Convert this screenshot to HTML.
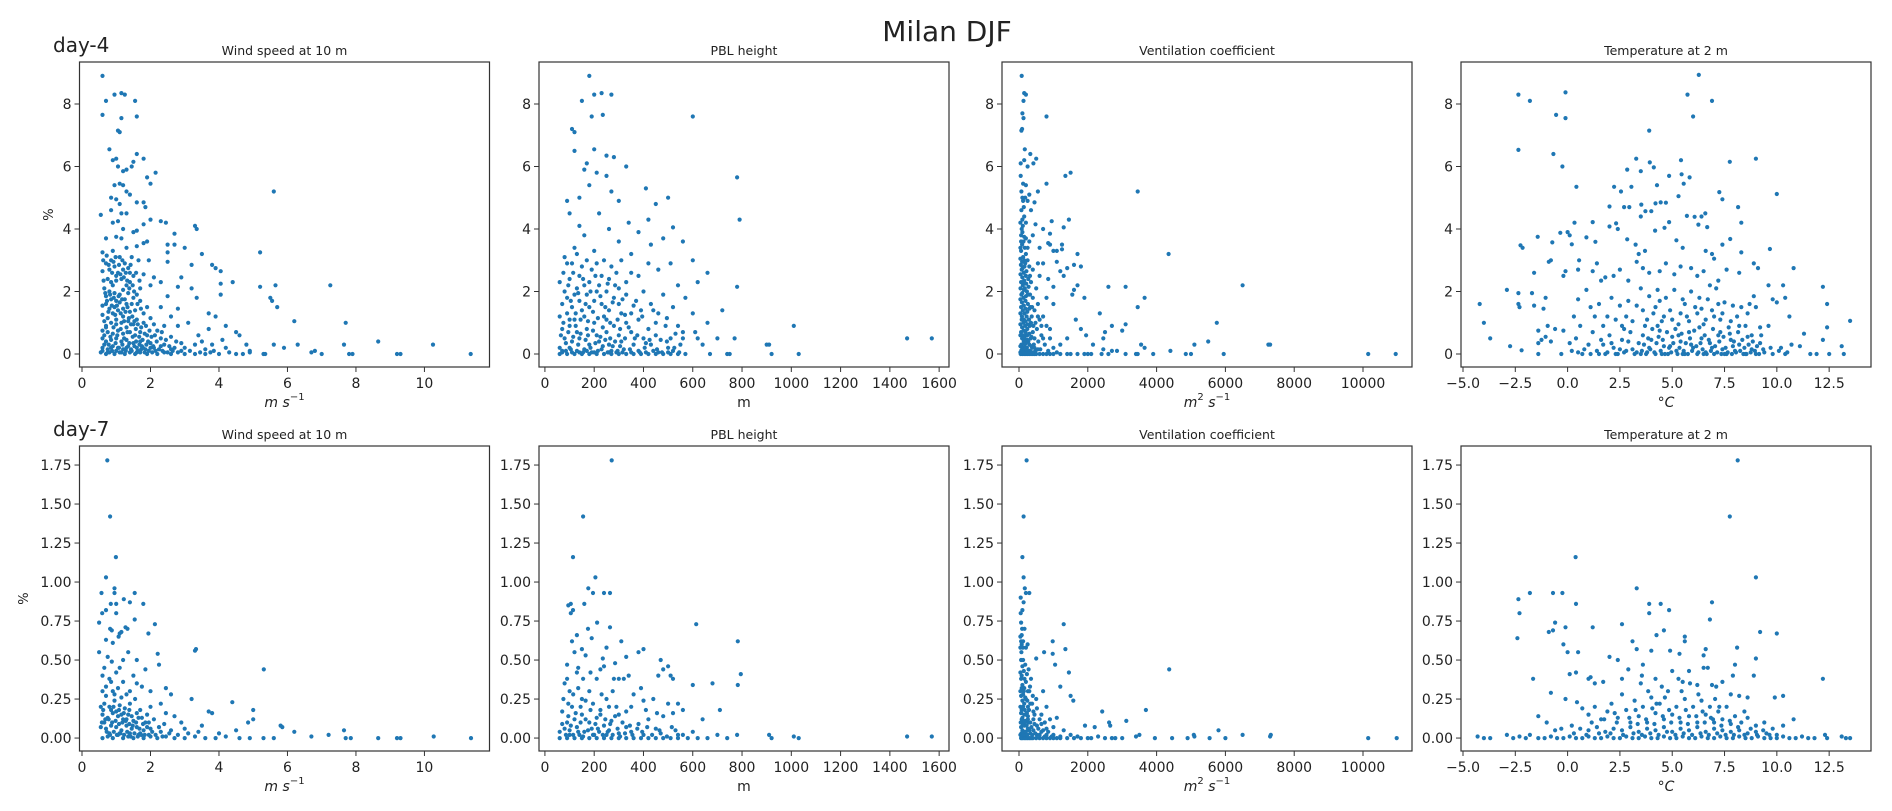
<!DOCTYPE html>
<html><head><meta charset="utf-8"><style>
html,body{margin:0;padding:0;background:#fff;}
svg{display:block;font-family:"DejaVu Sans","Liberation Sans",sans-serif;}
</style></head><body>
<svg id="fig" width="1892" height="811" viewBox="0 0 1892 811" xmlns="http://www.w3.org/2000/svg">
<rect width="1892" height="811" fill="#fff"/>
<text x="947" y="41" font-size="28" text-anchor="middle" fill="#222">Milan DJF</text>
<text x="53" y="52" font-size="20" fill="#222">day-4</text>
<text x="53" y="436" font-size="20" fill="#222">day-7</text>
<g id="plots"></g>
</svg>
<script>
// ---- tick labels ----
const windTicks=[0,2,4,6,8,10];
const pblTicks=[0,200,400,600,800,1000,1200,1400,1600];
const vcTicks=[0,2000,4000,6000,8000,10000];
const tTicks=[-5,-2.5,0,2.5,5,7.5,10,12.5];
const yTicksTop=[0,2,4,6,8];
const yTicksBot=[0,0.25,0.5,0.75,1,1.25,1.5,1.75];
const titles=["Wind speed at 10 m","PBL height","Ventilation coefficient","Temperature at 2 m"];

// ---- day-4 data [x, %] ----
const d4Wind=[[0.6,8.9],[0.7,8.1],[0.95,8.3],[1.15,8.35],[1.25,8.3],[1.55,8.1],[0.6,7.65],[1.15,7.55],[1.6,7.6],[1.05,7.15],[1.1,7.1],[0.8,6.55],[1.6,6.4],[1.8,6.25],[1.5,6.15],[0.9,6.2],[1.0,6.25],[1.05,6.0],[1.3,5.9],[1.45,6.0],[1.2,5.85],[1.9,5.65],[2.15,5.8],[0.95,5.4],[1.1,5.45],[1.2,5.4],[2.0,5.45],[1.3,5.2],[1.4,5.1],[0.85,5.0],[1.0,4.95],[1.1,4.8],[1.6,4.85],[1.8,4.85],[1.85,4.7],[5.6,5.2],[0.55,4.45],[0.85,4.6],[1.15,4.5],[1.3,4.5],[2.0,4.3],[2.3,4.25],[2.45,4.2],[0.9,4.2],[1.05,4.25],[1.8,4.15],[3.3,4.1],[3.35,4.0],[1.2,4.0],[1.5,3.9],[1.6,3.95],[2.7,3.85],[0.7,3.7],[1.0,3.75],[1.15,3.7],[1.8,3.55],[1.9,3.6],[2.5,3.5],[2.7,3.5],[3.0,3.4],[0.6,3.25],[0.9,3.3],[1.3,3.4],[1.6,3.45],[2.5,3.25],[3.5,3.2],[5.2,3.25],[0.85,3.0],[1.1,3.1],[1.45,3.1],[1.65,3.0],[1.95,3.0],[2.5,2.95],[3.2,2.85],[3.8,2.85],[3.9,2.75],[4.05,2.65],[0.6,2.65],[1.4,2.6],[1.8,2.55],[2.1,2.45],[2.9,2.45],[1.0,2.5],[1.2,2.7],[4.05,2.25],[4.4,2.3],[5.2,2.15],[5.65,2.2],[7.25,2.2],[0.9,2.2],[1.3,2.2],[1.7,2.1],[2.0,2.2],[2.3,2.3],[2.8,2.15],[3.2,2.1],[1.1,1.9],[1.5,1.8],[2.5,1.85],[3.35,1.8],[4.05,1.9],[5.5,1.8],[5.55,1.7],[0.7,1.6],[1.0,1.7],[1.3,1.6],[1.9,1.5],[2.3,1.5],[2.8,1.45],[5.7,1.5],[6.2,1.05],[7.7,1.0],[0.6,1.25],[0.9,1.3],[1.2,1.2],[1.6,1.1],[2.0,1.15],[2.6,1.2],[3.1,1.0],[3.7,1.3],[3.9,1.2],[4.2,0.9],[4.5,0.7],[0.7,0.9],[1.0,0.95],[1.3,0.85],[1.7,0.7],[2.2,0.75],[2.8,0.9],[3.4,0.6],[3.7,0.8],[4.6,0.6],
[0.7,2.9],[0.8,2.7],[0.95,2.8],[1.05,2.6],[1.25,2.9],[1.35,2.75],[1.5,2.5],[0.75,2.4],[0.85,2.3],[1.0,2.35],[1.15,2.4],[1.4,2.3],[0.65,2.1],[0.8,2.0],[0.95,1.95],[1.2,2.05],[1.35,1.95],[1.6,1.9],[0.7,1.85],[0.85,1.75],[1.1,1.65],[1.25,1.75],[1.45,1.6],[1.7,1.7],[0.6,1.55],[0.8,1.45],[0.95,1.5],[1.05,1.4],[1.2,1.45],[1.4,1.35],[1.55,1.4],[1.8,1.3],[0.65,1.05],[0.75,1.15],[0.85,1.0],[1.0,1.1],[1.15,1.0],[1.35,1.05],[1.5,0.95],[1.8,1.0],[2.1,0.95],[2.4,0.9],[0.6,0.75],[0.75,0.7],[0.9,0.65],[1.05,0.75],[1.2,0.65],[1.4,0.7],[1.55,0.6],[1.9,0.6],[2.3,0.5],[2.6,0.55],[0.6,0.5],[0.7,0.4],[0.85,0.45],[1.0,0.5],[1.15,0.4],[1.3,0.45],[1.5,0.35],[1.7,0.4],[2.0,0.35],[2.4,0.3],[2.9,0.35],[3.3,0.3],[3.8,0.3],[0.6,0.2],[0.75,0.15],[0.9,0.25],[1.05,0.2],[1.2,0.15],[1.35,0.25],[1.6,0.2],[1.85,0.15],[2.1,0.2],[2.6,0.15],[3.0,0.2],[3.6,0.15],[4.2,0.2],[4.8,0.3],[0.55,0.05],[0.7,0.0],[0.8,0.05],[0.95,0.0],[1.1,0.05],[1.25,0.0],[1.4,0.05],[1.55,0.0],[1.7,0.05],[1.9,0.0],[2.05,0.05],[2.2,0.0],[2.4,0.05],[2.6,0.0],[2.8,0.05],[3.0,0.0],[3.3,0.0],[3.6,0.0],[3.75,0.05],[4.0,0.0],[4.5,0.0],[4.7,0.0],[4.9,0.05],[5.3,0.0],[5.35,0.0],[5.6,0.3],[5.9,0.2],[6.3,0.3],[6.7,0.05],[6.8,0.1],[7.0,0.0],[7.65,0.3],[7.8,0.0],[7.9,0.0],[8.65,0.4],[9.2,0.0],[9.3,0.0],[10.25,0.3],[11.35,0.0]];
const d4WindDense=[[0.62,3.0],[0.72,3.15],[0.78,2.85],[0.88,2.6],[0.92,2.95],[0.98,3.1],[1.08,2.85],[1.12,2.55],[1.18,3.0],[1.22,2.45],[1.28,2.6],[1.32,2.35],[1.38,2.1],[1.42,2.85],[1.48,2.2],[1.52,2.0],[1.58,2.6],[1.62,1.6],[1.68,2.35],[1.72,1.45],[0.63,2.35],[0.68,1.95],[0.73,1.7],[0.77,1.35],[0.82,1.9],[0.87,1.55],[0.93,1.8],[0.97,1.25],[1.02,1.55],[1.07,1.85],[1.13,1.3],[1.17,1.75],[1.23,1.05],[1.27,1.35],[1.33,1.5],[1.37,1.15],[1.43,0.95],[1.47,1.2],[1.53,1.05],[1.57,0.8],[1.63,0.95],[1.67,0.55],[1.73,0.85],[1.77,0.45],[1.83,0.65],[1.87,0.9],[1.93,0.4],[1.97,0.75],[2.03,0.55],[2.08,0.25],[2.13,0.6],[2.18,0.4],[2.25,0.15],[2.33,0.7],[2.45,0.45],[2.55,0.25],[2.65,0.1],[2.75,0.4],[0.65,0.6],[0.7,0.85],[0.78,0.3],[0.83,0.55],[0.88,0.1],[0.92,0.85],[0.98,0.35],[1.03,0.6],[1.08,0.2],[1.13,0.8],[1.18,0.3],[1.23,0.5],[1.28,0.1],[1.33,0.7],[1.38,0.35],[1.43,0.15],[1.48,0.55],[1.53,0.25],[1.58,0.4],[1.63,0.1],[1.68,0.3],[1.73,0.15],[1.78,0.2],[1.83,0.05],[1.88,0.3],[1.95,0.1],[2.0,0.2],[2.15,0.1],[2.3,0.25],[2.5,0.05],[2.7,0.2],[2.9,0.1],[3.15,0.1],[3.45,0.05],[3.85,0.1],[4.3,0.05],[0.6,0.1],[0.65,0.3],[0.75,0.05],[0.85,0.2],[1.0,0.1],[1.15,0.05],[1.3,0.2],[1.45,0.1],[1.6,0.05],[1.75,0.25],[2.35,0.1],[3.5,0.4],[4.1,0.45],[4.9,0.1]];

const d4Pbl=[[180,8.9],[150,8.1],[230,8.35],[200,8.3],[270,8.3],[110,7.2],[120,7.1],[190,7.6],[235,7.65],[600,7.6],[120,6.5],[200,6.55],[250,6.35],[280,6.3],[330,6.0],[170,6.1],[160,5.9],[210,5.8],[250,5.7],[180,5.4],[410,5.3],[780,5.65],[270,5.2],[90,4.9],[140,5.0],[300,4.9],[450,4.8],[500,5.0],[790,4.3],[100,4.5],[220,4.5],[340,4.2],[420,4.3],[140,4.1],[260,4.0],[520,4.05],[380,3.9],[160,3.8],[300,3.6],[430,3.5],[480,3.7],[560,3.6],[120,3.4],[200,3.3],[350,3.2],[240,3.0],[420,2.9],[510,2.9],[600,3.0],[90,2.9],[150,2.8],[290,2.6],[380,2.5],[460,2.7],[660,2.6],[100,2.4],[180,2.3],[330,2.3],[540,2.2],[620,2.3],[780,2.15],[60,2.3],[130,2.1],[250,2.0],[400,2.0],[480,1.9],[570,1.8],[90,1.8],[200,1.7],[300,1.6],[430,1.6],[520,1.5],[720,1.4],[150,1.4],[350,1.3],[600,1.3],[660,1.0],[1010,0.9],[100,1.1],[250,1.1],[450,1.0],[540,0.9],[610,0.7],[620,0.5],[700,0.5],[770,0.5],[900,0.3],[910,0.3],[1470,0.5],[1570,0.5],[1030,0],[920,0],[740,0],[750,0],[670,0],[570,0],[640,0.3],[60,0.2],
[80,3.1],[110,2.9],[130,3.2],[170,3.0],[190,2.7],[210,2.9],[230,2.5],[270,2.8],[310,3.0],[140,2.5],[160,2.2],[220,2.2],[260,2.4],[300,2.1],[350,2.6],[80,2.0],[120,1.9],[170,1.9],[210,2.0],[280,1.8],[330,1.9],[370,1.7],[70,1.6],[110,1.5],[140,1.7],[180,1.5],[230,1.6],[260,1.4],[310,1.3],[390,1.4],[460,1.3],[60,1.2],[90,1.3],[120,1.1],[160,1.2],[200,1.0],[240,1.2],[280,0.9],[330,1.0],[380,1.1],[420,0.8],[490,0.9],[560,0.7],[70,0.8],[100,0.9],[130,0.7],[170,0.8],[210,0.6],[250,0.7],[300,0.6],[350,0.7],[400,0.5],[450,0.6],[510,0.5],[80,0.5],[110,0.4],[140,0.5],[180,0.3],[220,0.4],[260,0.3],[310,0.4],[360,0.3],[430,0.3],[500,0.2],[550,0.3],[70,0.1],[100,0.2],[130,0.1],[160,0.15],[190,0.05],[230,0.15],[270,0.1],[320,0.15],[380,0.1],[440,0.1],[520,0.1],[60,0],[90,0],[120,0],[150,0],[180,0],[210,0],[240,0],[270,0],[300,0],[330,0],[360,0],[390,0],[420,0],[450,0],[480,0],[510,0],[540,0]];
const d4PblDense=[[75,2.6],[95,2.2],[105,1.7],[115,2.6],[125,1.3],[135,1.95],[145,1.1],[155,2.4],[165,1.6],[175,1.05],[185,2.0],[195,1.35],[205,2.5],[215,1.15],[225,1.85],[235,0.85],[245,1.5],[255,2.25],[265,1.0],[275,1.65],[285,2.2],[295,1.1],[305,0.8],[315,1.75],[325,1.25],[340,0.85],[360,1.55],[375,0.6],[395,1.2],[410,0.35],[440,1.4],[470,0.45],[495,1.15],[530,0.65],[65,0.6],[75,1.0],[85,0.35],[95,0.7],[105,0.15],[115,0.55],[125,0.9],[135,0.3],[145,0.65],[155,0.05],[165,0.45],[175,0.6],[185,0.2],[195,0.75],[205,0.35],[215,0.1],[225,0.55],[235,0.25],[245,0.45],[255,0.05],[265,0.5],[275,0.25],[285,0.4],[295,0.1],[305,0.25],[315,0.05],[325,0.5],[345,0.15],[365,0.5],[385,0.05],[405,0.2],[425,0.45],[455,0.15],[475,0.05],[495,0.4],[525,0.2],[545,0.05],[560,0.5],[70,0.05],[85,0.1],[110,0.05],[140,0.05],[170,0.1],[200,0.05],[260,0.05],[290,0.05],[350,0.05],[410,0.05],[460,0.05],[500,0.05]];

const d4Vc=[[78,8.9],[150,8.35],[200,8.3],[130,8.1],[100,7.7],[130,7.55],[800,7.6],[70,7.15],[90,7.2],[170,6.55],[330,6.4],[500,6.25],[150,6.2],[250,6.0],[420,6.1],[50,5.7],[1350,5.7],[1500,5.8],[120,5.45],[200,5.4],[800,5.45],[550,5.2],[3450,5.2],[100,5.0],[300,5.1],[250,4.9],[450,4.85],[140,4.7],[350,4.6],[100,4.3],[200,4.2],[950,4.25],[1450,4.3],[1300,4.05],[700,4.0],[480,4.15],[900,3.85],[400,3.8],[150,3.75],[300,3.6],[850,3.55],[900,3.5],[1250,3.5],[600,3.4],[1000,3.3],[1250,3.35],[1700,3.2],[4350,3.2],[1100,3.3],[200,3.2],[150,3.0],[700,2.9],[550,2.9],[1100,2.95],[1600,2.85],[1800,2.8],[1400,2.75],[1200,2.65],[1300,2.5],[400,2.7],[600,2.5],[850,2.4],[1000,2.15],[1700,2.2],[2600,2.15],[3100,2.15],[6500,2.2],[1600,2.05],[1550,1.9],[1900,1.8],[3650,1.8],[800,1.8],[1000,1.6],[3450,1.5],[1650,1.1],[2350,1.3],[5750,1.0],[2700,0.9],[3100,0.95],[1800,0.8],[2500,0.7],[3000,0.75],[1950,0.6],[1400,0.5],[2450,0.5],[2150,0.3],[3550,0.3],[5100,0.3],[5500,0.4],[7250,0.3],[7300,0.3],[3650,0.2],[2450,0.15],[2700,0.1],[2850,0.1],[4400,0.1],[1900,0],[2000,0],[2100,0],[2400,0],[2600,0],[3100,0],[3400,0],[3450,0],[3900,0],[4850,0],[5000,0],[5950,0],[10150,0],[10950,0],[1400,0],[1500,0],[1700,0],
[60,3.3],[120,3.1],[180,2.9],[250,3.0],[300,2.8],[80,2.7],[140,2.6],[200,2.5],[270,2.4],[350,2.3],[60,2.3],[110,2.2],[170,2.1],[230,2.0],[320,1.9],[400,1.8],[70,1.9],[130,1.8],[190,1.7],[260,1.6],[330,1.5],[450,1.4],[550,1.6],[60,1.5],[110,1.4],[160,1.3],[220,1.2],[290,1.1],[370,1.2],[480,1.0],[600,1.1],[700,1.2],[80,1.1],[130,1.0],[180,0.9],[240,0.8],[310,0.9],[400,0.7],[520,0.8],[650,0.6],[800,0.9],[900,0.5],[60,0.7],[110,0.6],[160,0.5],[210,0.6],[270,0.4],[340,0.5],[430,0.3],[560,0.4],[750,0.3],[1000,0.2],[1200,0.3],[70,0.3],[120,0.2],[170,0.3],[230,0.2],[300,0.1],[380,0.2],[480,0.1],[620,0.15],[850,0.1],[1100,0.05],[50,0],[100,0],[150,0],[200,0],[250,0],[300,0],[350,0],[400,0],[450,0],[500,0],[600,0],[700,0],[800,0],[900,0],[1000,0],[1200,0],[80,4.0],[60,3.8],[130,3.6],[90,3.5],[170,3.4],[70,4.6],[120,4.9],[180,5.0]];
const d4VcDense=[[40,3.05],[55,2.85],[90,2.95],[105,2.75],[160,2.8],[215,2.65],[45,2.55],[95,2.45],[150,2.35],[210,2.25],[280,2.15],[45,2.1],[95,1.95],[145,2.05],[200,1.85],[260,1.9],[40,1.75],[85,1.65],[140,1.55],[190,1.45],[240,1.35],[300,1.45],[380,1.5],[40,1.3],[85,1.2],[140,1.1],[190,1.05],[250,0.95],[350,1.0],[420,0.9],[40,0.95],[90,0.85],[140,0.75],[190,0.7],[240,0.6],[300,0.65],[360,0.55],[450,0.5],[40,0.6],[90,0.5],[140,0.4],[190,0.35],[240,0.45],[300,0.3],[360,0.25],[450,0.2],[550,0.15],[40,0.25],[90,0.15],[140,0.1],[190,0.2],[240,0.05],[320,0.1],[400,0.05],[40,0.05],[70,0.12],[110,0.05],[170,0.02],[230,0.12],[280,0.02],[60,3.6],[100,3.9],[40,4.2],[150,4.4],[70,5.2],[50,6.1],[110,4.1],[200,3.7],[250,3.4],[40,3.4],[120,2.3],[320,2.5],[500,2.1],[550,1.2],[650,0.9],[700,0.5],[900,0.8]];

const d4Temp=[[-2.35,8.3],[-1.8,8.1],[-0.1,8.37],[-0.55,7.65],[-0.1,7.55],[6.27,8.93],[5.73,8.3],[6.9,8.1],[6.0,7.6],[3.9,7.15],[-2.35,6.53],[-0.68,6.4],[-0.25,6.0],[3.28,6.25],[3.93,6.13],[4.12,5.97],[5.42,6.2],[7.75,6.15],[9.0,6.25],[2.85,5.9],[3.5,5.85],[4.85,5.7],[5.45,5.75],[5.83,5.65],[5.55,5.45],[4.27,5.4],[2.22,5.35],[3.05,5.35],[0.42,5.35],[2.55,5.2],[10.0,5.12],[7.25,5.18],[7.4,4.95],[5.3,5.05],[2.0,4.72],[2.7,4.7],[2.95,4.7],[8.15,4.7],[3.52,4.78],[3.72,4.57],[4.0,4.57],[4.2,4.82],[4.7,4.84],[4.45,4.85],[5.7,4.42],[6.07,4.39],[6.58,4.5],[6.4,4.4],[3.5,4.4],[4.85,4.22],[8.3,4.2],[1.2,4.22],[0.33,4.2],[2.32,4.18],[2.0,4.08],[2.4,4.0],[4.18,3.95],[4.63,4.04],[6.25,4.14],[6.67,4.06],[0.0,3.9],[-0.35,3.88],[0.1,3.8],[-1.43,3.75],[0.9,3.73],[1.33,3.59],[-0.73,3.57],[0.2,3.51],[2.85,3.67],[3.25,3.5],[-2.25,3.48],[-2.15,3.4],[7.77,3.68],[7.4,3.5],[9.67,3.36],[5.2,3.64],[3.7,3.3],[3.4,3.2],[5.5,3.4],[6.6,3.3],[6.9,3.2],[7.0,3.05],[8.3,3.25],
[-1.6,2.6],[-0.9,2.95],[-0.8,3.0],[-0.2,2.5],[-0.1,2.65],[0.5,2.7],[0.55,3.0],[1.2,2.65],[1.4,2.9],[1.6,2.35],[1.8,2.45],[2.2,2.5],[2.5,2.7],[2.9,2.35],[3.3,2.95],[3.6,2.75],[3.9,2.6],[4.4,2.65],[4.7,2.9],[5.1,2.55],[5.4,2.8],[5.9,2.75],[6.2,2.5],[6.5,2.65],[6.8,2.2],[7.2,2.35],[7.6,2.7],[8.2,2.6],[8.9,2.9],[9.1,2.75],[10.8,2.75],[-2.9,2.05],[-2.35,1.95],[-1.7,1.95],[-2.35,1.6],[-2.3,1.5],[-1.6,1.55],[-1.05,1.8],[-1.15,1.45],[-4.2,1.6],[-4.0,1.0],[-3.7,0.5],[-2.75,0.25],[-2.2,0.12],[-1.4,0.0],[-1.4,0.35],[-1.4,0.75],[-1.25,0.45],[-1.05,0.55],[-0.95,0.9],[-0.8,0.4],[-0.6,0.8],[-0.3,0.0],[-0.2,0.75],[0.1,0.35],[0.3,1.2],[0.5,1.75],[0.6,0.9],[0.9,2.05],[1.1,1.5],[1.3,1.2],[1.5,1.6],[1.7,0.9],[1.9,1.2],[2.1,1.8],[2.3,1.1],[2.5,1.55],[2.7,0.8],[2.9,1.7],[3.1,1.05],[3.3,1.55],[3.5,2.1],[3.7,0.9],[3.9,1.85],[4.1,1.3],[4.3,2.05],[4.5,1.05],[4.7,1.8],[4.9,1.4],[5.1,2.05],[5.3,0.95],[5.5,1.75],[5.7,1.2],[5.9,2.0],[6.1,1.5],[6.3,1.8],[6.5,0.95],[6.7,1.75],[6.9,1.4],[7.1,2.1],[7.3,1.1],[7.5,1.65],[7.7,0.85],[7.9,1.55],[8.1,1.2],[8.3,1.5],[8.5,0.9],[8.7,1.6],[8.9,1.85],[9.0,1.5],[9.2,0.85],[9.6,2.2],[9.8,1.75],[10.0,1.65],[10.3,2.2],[10.4,1.8],[10.6,1.2],[12.2,2.15],[12.4,1.6],[12.4,0.85],[13.5,1.06],[11.3,0.65],[12.2,0.45],[13.1,0.25],[13.2,0.0],[12.5,0.0],[11.9,0.0],[11.6,0.0],[11.1,0.25],
[0.2,0.1],[0.4,0.5],[0.7,0.0],[1.0,0.3],[1.2,0.7],[1.4,0.1],[1.6,0.45],[1.8,0.0],[2.0,0.6],[2.2,0.2],[2.4,0.0],[2.6,0.45],[2.8,0.1],[3.0,0.7],[3.2,0.0],[3.4,0.35],[3.6,0.6],[3.8,0.05],[4.0,0.45],[4.2,0.0],[4.4,0.75],[4.6,0.25],[4.8,0.0],[5.0,0.55],[5.2,0.1],[5.4,0.4],[5.6,0.0],[5.8,0.7],[6.0,0.2],[6.2,0.0],[6.4,0.5],[6.6,0.05],[6.8,0.35],[7.0,0.0],[7.2,0.6],[7.4,0.15],[7.6,0.0],[7.8,0.45],[8.0,0.1],[8.2,0.3],[8.4,0.0],[8.6,0.55],[8.8,0.15],[9.0,0.0],[9.2,0.35],[9.4,0.05],[9.8,0.0],[10.1,0.1],[10.4,0.0],[10.7,0.3],[3.5,0.0],[4.5,0.0],[5.5,0.0],[6.5,0.0],[7.5,0.0],[8.5,0.0],[3.9,0.2],[4.9,0.25],[5.9,0.3],[6.9,0.2],[7.9,0.25],[4.3,0.9],[5.3,0.6],[6.3,0.85],[7.3,0.7],[2.6,0.9],[8.8,0.6]];
const d4TempDense=[[3.55,0.1],[3.65,0.3],[3.75,0.0],[3.85,0.5],[3.95,0.15],[4.05,0.8],[4.15,0.05],[4.25,0.35],[4.35,0.55],[4.45,0.1],[4.55,0.45],[4.65,0.0],[4.75,0.7],[4.85,0.2],[4.95,0.05],[5.05,0.35],[5.15,0.8],[5.25,0.0],[5.35,0.2],[5.45,0.65],[5.55,0.1],[5.65,0.35],[5.75,0.0],[5.85,0.5],[5.95,0.1],[6.05,0.75],[6.15,0.25],[6.25,0.05],[6.35,0.35],[6.45,0.15],[6.55,0.6],[6.65,0.0],[6.75,0.45],[6.85,0.1],[6.95,0.8],[7.05,0.25],[7.15,0.05],[7.25,0.4],[7.35,0.0],[7.45,0.55],[7.55,0.2],[7.65,0.05],[7.75,0.65],[7.85,0.0],[7.95,0.4],[8.05,0.05],[8.15,0.7],[8.25,0.1],[8.35,0.45],[8.45,0.2],[8.55,0.0],[8.65,0.3],[8.75,0.05],[8.85,0.4],[8.95,0.1],[9.05,0.25],[9.15,0.0],[9.25,0.6],[9.35,0.15],[1.5,0.0],[1.7,0.3],[1.9,0.05],[2.1,0.35],[2.3,0.0],[2.5,0.15],[2.7,0.05],[2.9,0.4],[3.1,0.15],[3.3,0.05],[0.5,0.05],[0.8,0.15],[1.1,0.0],[3.8,1.1],[4.2,1.5],[4.6,1.2],[5.0,1.1],[5.4,1.3],[5.8,1.05],[6.2,1.3],[6.6,1.1],[7.0,1.2],[7.4,1.3],[7.8,1.05],[8.2,0.9],[4.4,1.7],[5.6,1.6],[6.4,1.45],[7.2,1.6],[3.6,1.4],[2.8,1.2],[8.6,1.3],[9.6,0.9],[10.2,0.2],[10.5,0.05],[9.7,0.2]];

// ---- day-7 data [x, %] ----
const d7Wind=[[0.74,1.78],[0.82,1.42],[0.99,1.16],[0.7,1.03],[0.57,0.93],[0.95,0.96],[0.95,0.93],[1.54,0.93],[1.22,0.89],[1.4,0.87],[1.79,0.86],[0.84,0.86],[1.0,0.86],[1.0,0.8],[0.59,0.8],[1.54,0.76],[0.7,0.82],[0.5,0.74],[2.13,0.73],[0.82,0.7],[0.87,0.69],[1.1,0.67],[1.15,0.68],[1.33,0.7],[1.27,0.71],[1.94,0.67],[1.07,0.65],[0.7,0.63],[0.9,0.61],[2.21,0.54],[3.33,0.57],[3.3,0.56],[2.25,0.47],[0.5,0.55],[0.87,0.49],[1.2,0.5],[5.31,0.44],[0.6,0.4],[0.8,0.38],[1.0,0.42],[1.2,0.36],[1.5,0.4],[1.75,0.33],[2.45,0.32],[2.6,0.28],[3.2,0.25],[4.39,0.23],[3.7,0.17],[3.8,0.16],[5.0,0.18],[5.0,0.12],[4.85,0.1],[5.8,0.08],[5.85,0.07],[6.2,0.04],[6.7,0.01],[7.2,0.02],[7.65,0.05],[7.7,0.0],[7.85,0.0],[8.65,0.0],[9.2,0.0],[9.3,0.0],[10.27,0.01],[11.36,0.0],
[0.6,0.3],[0.7,0.27],[0.9,0.3],[1.05,0.32],[1.3,0.28],[1.55,0.25],[0.65,0.22],[0.8,0.2],[0.95,0.24],[1.1,0.21],[1.25,0.19],[1.4,0.22],[1.7,0.18],[2.0,0.2],[0.6,0.15],[0.75,0.13],[0.9,0.16],[1.05,0.14],[1.2,0.12],[1.35,0.15],[1.5,0.11],[1.65,0.13],[1.85,0.1],[2.1,0.12],[2.4,0.09],[2.7,0.14],[0.55,0.07],[0.7,0.06],[0.85,0.08],[1.0,0.07],[1.15,0.05],[1.3,0.08],[1.45,0.06],[1.6,0.07],[1.8,0.05],[2.0,0.06],[2.3,0.04],[2.6,0.05],[3.0,0.06],[3.4,0.04],[0.6,0.0],[0.75,0.01],[0.9,0.0],[1.05,0.02],[1.2,0.0],[1.35,0.01],[1.5,0.0],[1.65,0.02],[1.8,0.0],[2.0,0.01],[2.2,0.0],[2.45,0.01],[2.7,0.0],[3.0,0.0],[3.3,0.01],[3.6,0.0],[3.9,0.0],[4.2,0.01],[4.6,0.0],[4.9,0.0],[5.3,0.0],[5.6,0.0],[0.8,0.03],[1.1,0.03],[1.4,0.03],[1.7,0.03]];
const d7WindDense=[[0.65,0.1],[0.72,0.04],[0.78,0.12],[0.82,0.02],[0.88,0.1],[0.93,0.04],[0.98,0.11],[1.02,0.02],[1.08,0.09],[1.12,0.03],[1.18,0.1],[1.23,0.02],[1.28,0.11],[1.32,0.04],[1.38,0.09],[1.42,0.01],[1.48,0.08],[1.53,0.03],[1.58,0.1],[1.63,0.01],[1.68,0.06],[1.73,0.02],[1.78,0.09],[1.83,0.02],[1.9,0.07],[1.95,0.02],[2.05,0.04],[2.15,0.02],[2.25,0.07],[2.35,0.01],[2.55,0.03],[2.8,0.02],[0.62,0.18],[0.68,0.12],[0.85,0.18],[0.92,0.2],[1.0,0.17],[1.08,0.18],[1.15,0.15],[1.22,0.16],[1.3,0.12],[1.38,0.18],[1.45,0.14],[1.6,0.16],[1.75,0.13],[1.9,0.15],[0.7,0.33],[0.85,0.36],[0.95,0.28],[1.15,0.26],[1.4,0.3],[1.6,0.35],[0.65,0.45],[0.75,0.52],[1.1,0.45],[1.35,0.55],[1.6,0.5],[1.85,0.44],[2.0,0.3],[2.3,0.22],[2.9,0.1],[3.1,0.03],[3.5,0.08],[4.0,0.03],[4.5,0.05],[0.55,0.2],[0.58,0.1],[1.95,0.1],[2.45,0.16]];

const d7Pbl=[[271,1.78],[155,1.42],[114,1.16],[205,1.03],[176,0.96],[195,0.93],[264,0.93],[240,0.93],[105,0.86],[95,0.85],[160,0.86],[114,0.82],[105,0.8],[212,0.74],[264,0.71],[614,0.73],[783,0.62],[310,0.62],[380,0.55],[400,0.57],[150,0.57],[120,0.55],[165,0.53],[795,0.41],[783,0.34],[600,0.34],[680,0.35],[235,0.51],[240,0.46],[470,0.5],[480,0.44],[500,0.46],[510,0.4],[330,0.52],[320,0.38],[300,0.38],[280,0.38],[210,0.38],[90,0.38],[80,0.35],[100,0.3],[130,0.42],[340,0.4],[390,0.32],[460,0.4],[520,0.38],[440,0.25],[540,0.22],[560,0.18],[710,0.18],[640,0.12],[400,0.24],[360,0.28],[180,0.3],[230,0.28],[150,0.25],[110,0.2],[70,0.17],[260,0.2],[300,0.15],[330,0.17],[420,0.12],[480,0.14],[520,0.16],[90,0.1],[120,0.12],[150,0.15],[180,0.1],[210,0.13],[240,0.08],[270,0.11],[330,0.07],[380,0.09],[450,0.06],[530,0.05],[60,0.04],[80,0.06],[100,0.05],[130,0.07],[160,0.04],[190,0.06],[220,0.04],[260,0.05],[300,0.03],[350,0.04],[400,0.02],[470,0.03],[540,0.02],[60,0],[90,0],[120,0],[150,0],[180,0],[210,0],[240,0],[270,0],[300,0],[330,0],[360,0],[390,0],[420,0],[450,0],[480,0],[510,0],[540,0],[580,0],[620,0],[660,0],[700,0.02],[740,0],[780,0.02],[910,0.02],[920,0],[1010,0.01],[1030,0],[1470,0.01],[1570,0.01],[100,0.02],[200,0.02],[140,0.02],[250,0.02]];
const d7PblDense=[[70,0.09],[85,0.02],[95,0.14],[105,0.08],[115,0.02],[125,0.16],[135,0.04],[145,0.1],[155,0.01],[165,0.12],[175,0.05],[185,0.18],[195,0.02],[205,0.09],[215,0.06],[225,0.15],[235,0.02],[245,0.12],[255,0.04],[265,0.09],[275,0.02],[285,0.14],[295,0.06],[305,0.01],[315,0.1],[325,0.03],[345,0.08],[355,0.02],[375,0.06],[395,0.04],[415,0.07],[435,0.02],[465,0.05],[495,0.01],[515,0.07],[75,0.25],[95,0.22],[115,0.28],[135,0.32],[145,0.2],[165,0.24],[195,0.22],[225,0.18],[250,0.25],[275,0.3],[290,0.2],[135,0.45],[155,0.38],[185,0.42],[225,0.44],[90,0.47],[110,0.62],[130,0.66],[175,0.7],[190,0.64],[250,0.58],[285,0.48],[350,0.2],[410,0.18],[455,0.16],[500,0.22],[560,0.02],[600,0.04]];

const d7Vc=[[220,1.78],[135,1.42],[100,1.16],[135,1.03],[170,0.96],[200,0.93],[300,0.93],[135,0.87],[50,0.8],[100,0.82],[1300,0.73],[980,0.62],[1350,0.57],[980,0.54],[730,0.55],[500,0.51],[4365,0.44],[1450,0.42],[1050,0.47],[1200,0.33],[1500,0.27],[1580,0.24],[2420,0.17],[3690,0.18],[3120,0.11],[2620,0.1],[2650,0.08],[1920,0.08],[2200,0.07],[5800,0.05],[6500,0.02],[7300,0.01],[7320,0.02],[10150,0],[10980,0],[5080,0.02],[5100,0.01],[4900,0],[5540,0],[6000,0],[3950,0],[4450,0],[3500,0.02],[3400,0.01],[2800,0],[3000,0],[2500,0],[2300,0.01],[2700,0],[1700,0.01],[1800,0],
[60,0.74],[80,0.66],[120,0.62],[160,0.7],[200,0.58],[250,0.6],[60,0.5],[100,0.46],[140,0.43],[180,0.47],[230,0.41],[280,0.44],[350,0.38],[60,0.38],[100,0.34],[150,0.32],[200,0.36],[260,0.3],[320,0.33],[400,0.27],[500,0.25],[700,0.3],[800,0.2],[60,0.27],[100,0.24],[150,0.22],[200,0.25],[260,0.2],[330,0.22],[420,0.17],[520,0.19],[650,0.15],[900,0.12],[1100,0.13],[60,0.16],[100,0.13],[150,0.15],[200,0.11],[260,0.14],[330,0.1],[420,0.12],[520,0.08],[650,0.09],[800,0.06],[1000,0.07],[1300,0.05],[60,0.07],[100,0.05],[150,0.08],[200,0.04],[260,0.06],[330,0.03],[420,0.05],[520,0.02],[650,0.04],[800,0.02],[1000,0.02],[1200,0.01],[1500,0.02],[60,0],[100,0],[150,0],[200,0],[250,0],[300,0],[350,0],[400,0],[500,0],[600,0],[700,0],[800,0],[900,0],[1000,0],[1100,0],[1200,0],[1400,0],[1600,0],[2000,0],[2100,0]];
const d7VcDense=[[40,0.02],[50,0.1],[70,0.03],[80,0.12],[90,0.02],[110,0.09],[120,0.03],[130,0.11],[160,0.02],[170,0.1],[180,0.04],[220,0.08],[240,0.02],[280,0.1],[300,0.05],[360,0.07],[380,0.02],[450,0.09],[470,0.03],[560,0.06],[600,0.02],[700,0.05],[750,0.01],[850,0.04],[950,0.01],[40,0.2],[80,0.18],[120,0.2],[170,0.18],[230,0.16],[290,0.18],[40,0.3],[80,0.32],[120,0.28],[180,0.26],[240,0.24],[40,0.42],[80,0.4],[120,0.5],[160,0.38],[40,0.58],[70,0.55],[110,0.58],[60,0.62],[90,0.7],[50,0.9],[80,0.6],[300,0.3],[380,0.22],[450,0.15],[600,0.12],[750,0.1],[40,0.65],[140,0.3],[200,0.15],[260,0.12]];

const d7Temp=[[8.13,1.78],[7.75,1.42],[0.38,1.16],[9.0,1.03],[3.3,0.96],[-1.8,0.93],[-0.7,0.93],[-0.25,0.93],[-2.35,0.89],[-2.3,0.8],[-2.4,0.64],[3.9,0.86],[4.45,0.86],[3.9,0.8],[4.85,0.82],[0.4,0.86],[6.9,0.87],[6.8,0.76],[-0.6,0.74],[-0.9,0.68],[-0.7,0.69],[-0.1,0.71],[2.6,0.73],[1.2,0.71],[4.6,0.69],[4.25,0.66],[5.6,0.65],[5.6,0.62],[9.2,0.68],[10.0,0.67],[3.1,0.62],[3.3,0.57],[8.1,0.58],[6.6,0.57],[6.5,0.53],[-0.2,0.6],[0.0,0.55],[0.5,0.55],[9.0,0.51],[2.0,0.52],[2.4,0.5],[4.0,0.56],[4.9,0.56],[5.35,0.54],[8.0,0.47],[6.7,0.45],[6.5,0.45],[12.2,0.38],[-1.65,0.38],[-0.8,0.29],[0.1,0.41],[0.4,0.42],[1.0,0.38],[1.1,0.39],[1.3,0.35],[1.7,0.36],[2.6,0.38],[2.9,0.44],[3.6,0.47],[3.55,0.4],[3.5,0.35],[4.2,0.38],[4.5,0.33],[5.0,0.43],[5.3,0.38],[5.5,0.36],[5.8,0.43],[6.2,0.34],[6.9,0.34],[7.1,0.33],[7.4,0.36],[7.9,0.4],[8.6,0.26],[8.9,0.4],[9.9,0.26],[10.3,0.27],[8.2,0.27],[7.8,0.28],
[-0.1,0.25],[0.45,0.23],[0.7,0.19],[1.0,0.15],[1.3,0.2],[1.6,0.12],[1.9,0.17],[2.1,0.22],[2.4,0.13],[2.6,0.28],[2.8,0.18],[3.0,0.1],[3.2,0.24],[3.4,0.14],[3.6,0.2],[3.8,0.1],[4.0,0.26],[4.2,0.16],[4.4,0.22],[4.6,0.12],[4.8,0.3],[5.0,0.15],[5.2,0.2],[5.4,0.1],[5.6,0.25],[5.8,0.14],[6.0,0.2],[6.2,0.1],[6.4,0.24],[6.6,0.15],[6.8,0.2],[7.0,0.1],[7.2,0.17],[7.4,0.12],[7.6,0.2],[7.8,0.09],[8.0,0.14],[8.3,0.1],[8.6,0.13],[9.0,0.08],[9.4,0.1],[9.8,0.06],[10.8,0.12],[10.3,0.08],[-1.4,0.14],[-1.0,0.1],[-0.6,0.05],[-0.3,0.06],[0.2,0.08],[0.6,0.06],[1.0,0.05],[1.4,0.07],[1.8,0.04],[2.2,0.06],[2.6,0.05],[3.0,0.07],[3.4,0.04],[3.8,0.06],[4.2,0.05],[4.6,0.07],[5.0,0.04],[5.4,0.06],[5.8,0.05],[6.2,0.07],[6.6,0.04],[7.0,0.06],[7.4,0.05],[7.8,0.04],[8.2,0.05],[8.6,0.03],[9.0,0.04],[9.5,0.03],[10.0,0.02],[-4.3,0.01],[-4.0,0.0],[-3.7,0.0],[-2.9,0.02],[-2.6,0.0],[-2.3,0.01],[-2.0,0.0],[-1.8,0.02],[-1.4,0.0],[-1.1,0.0],[-0.8,0.01],[-0.5,0.0],[-0.2,0.0],[0.1,0.01],[0.4,0.0],[0.7,0.0],[1.0,0.01],[1.3,0.0],[1.6,0.0],[1.9,0.01],[2.2,0.0],[2.5,0.0],[2.8,0.01],[3.1,0.0],[3.4,0.0],[3.7,0.01],[4.0,0.0],[4.3,0.0],[4.6,0.01],[4.9,0.0],[5.2,0.0],[5.5,0.01],[5.8,0.0],[6.1,0.0],[6.4,0.01],[6.7,0.0],[7.0,0.0],[7.3,0.01],[7.6,0.0],[7.9,0.0],[8.2,0.01],[8.5,0.0],[8.8,0.0],[9.1,0.01],[9.4,0.0],[9.7,0.0],[10.0,0.0],[10.3,0.01],[10.6,0.0],[10.9,0.0],[11.2,0.01],[11.5,0.0],[11.8,0.0],[12.3,0.02],[12.4,0.0],[13.1,0.01],[13.3,0.0],[13.5,0.0]];
const d7TempDense=[[2.05,0.03],[2.35,0.1],[2.65,0.02],[2.95,0.13],[3.15,0.03],[3.35,0.09],[3.55,0.02],[3.75,0.12],[3.95,0.03],[4.15,0.09],[4.35,0.02],[4.55,0.14],[4.75,0.04],[4.95,0.1],[5.15,0.02],[5.35,0.13],[5.55,0.03],[5.75,0.09],[5.95,0.02],[6.15,0.14],[6.35,0.03],[6.55,0.1],[6.75,0.02],[6.95,0.12],[7.15,0.03],[7.35,0.08],[7.55,0.02],[7.75,0.11],[7.95,0.02],[8.15,0.07],[8.45,0.02],[8.75,0.06],[9.05,0.02],[9.35,0.05],[9.65,0.02],[0.3,0.03],[0.9,0.02],[1.5,0.03],[1.15,0.1],[1.75,0.12],[3.25,0.18],[4.05,0.19],[4.85,0.18],[5.65,0.18],[6.45,0.17],[7.25,0.2],[3.85,0.3],[4.65,0.26],[5.45,0.3],[6.25,0.28],[7.05,0.25],[2.25,0.16],[8.45,0.17],[5.85,0.35],[4.25,0.22],[6.85,0.13]];

// ---- layout ----
const NS="http://www.w3.org/2000/svg";
const root=document.getElementById('plots');
const colLeft=[79.5,539,1002,1461], W=410;
const rowTop=[62,446], H=305;
const xDom=[[-0.073,11.9],[-24,1640],[-494,11424],[-5.095,14.5]];
const yDom=[[-0.416,9.344],[-0.083,1.872]];
const xTicks=[windTicks,pblTicks,vcTicks,tTicks];
const yTicks=[yTicksTop,yTicksBot];
const data=[[d4Wind.concat(d4WindDense),d4Pbl.concat(d4PblDense),d4Vc.concat(d4VcDense),d4Temp.concat(d4TempDense)],
            [d7Wind.concat(d7WindDense),d7Pbl.concat(d7PblDense),d7Vc.concat(d7VcDense),d7Temp.concat(d7TempDense)]];
const xLabels=['<tspan font-style="italic">m s</tspan><tspan font-size="10" dy="-7">−1</tspan>','m','<tspan font-style="italic">m</tspan><tspan font-size="10" dy="-7">2</tspan><tspan font-style="italic" dy="7"> s</tspan><tspan font-size="10" dy="-7">−1</tspan>','°<tspan font-style="italic">C</tspan>'];
const names=['wind','pbl','ventilation','temperature'];
function mk(tag,attrs,parent){const e=document.createElementNS(NS,tag);for(const k in attrs)e.setAttribute(k,attrs[k]);(parent||root).appendChild(e);return e;}
function fmtX(c,v){if(c===3){const s=v.toFixed(1);return v<0?'−'+s.slice(1):s;}return String(v);}
function fmtY(r,v){return r===0?String(v):v.toFixed(2);}

for(let r=0;r<2;r++){
  for(let c=0;c<4;c++){
    const L=colLeft[c],T=rowTop[r];
    const sx=v=>L+(v-xDom[c][0])/(xDom[c][1]-xDom[c][0])*W;
    const sy=v=>T+H-(v-yDom[r][0])/(yDom[r][1]-yDom[r][0])*H;
    const g=mk('g',{});
    
    
    const t=mk('text',{x:L+W/2,y:T-7,'font-size':12.5,'text-anchor':'middle',fill:'#222'},g);
    t.textContent=titles[c];
    
    
    const pts=mk('g',{fill:'#1f77b4'},g);
    
    
    for(const p of data[r][c]){
      const dot=mk('circle',{cx:sx(p[0]).toFixed(1),cy:sy(p[1]).toFixed(1),r:2.1},pts);
      
      
    }
    const fr=mk('rect',{x:L,y:T,width:W,height:H,fill:'none',stroke:'#333','stroke-width':1.2},g);
    
    
    const xa=mk('g',{},g);
    
    
    for(const v of xTicks[c]){
      const x=sx(v);
      mk('line',{x1:x,x2:x,y1:T+H,y2:T+H+5,stroke:'#333','stroke-width':1},xa);
      const tl=mk('text',{x:x,y:T+H+21,'font-size':14,'text-anchor':'middle',fill:'#222'},xa);
      tl.textContent=fmtX(c,v);
      
      
    }
    const xl=mk('text',{x:L+W/2,y:T+H+40,'font-size':14,'text-anchor':'middle',fill:'#222'},g);
    xl.innerHTML=xLabels[c];
    
    
    const ya=mk('g',{},g);
    
    
    for(const v of yTicks[r]){
      const y=sy(v);
      mk('line',{x1:L-5,x2:L,y1:y,y2:y,stroke:'#333','stroke-width':1},ya);
      const tl=mk('text',{x:L-8,y:y+5,'font-size':14,'text-anchor':'end',fill:'#222'},ya);
      tl.textContent=fmtY(r,v);
      
      
    }
    if(c===0){
      const yx=r===0?53:28, yy=T+H/2;
      const yl=mk('text',{x:yx,y:yy,'font-size':13,'text-anchor':'middle',fill:'#222',transform:'rotate(-90 '+yx+' '+yy+')'},g);
      yl.textContent='%';
      
      
    }
  }
}
</script>
</body></html>
